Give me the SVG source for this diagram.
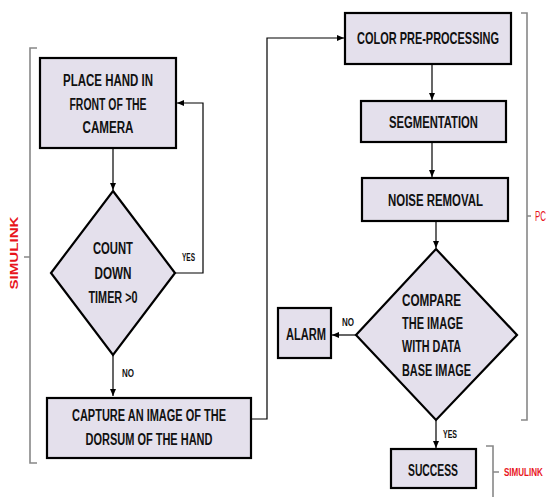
<svg xmlns="http://www.w3.org/2000/svg" width="549" height="497" viewBox="0 0 549 497">
<defs>
<marker id="ah" markerWidth="7" markerHeight="6" refX="7" refY="3" orient="auto" markerUnits="userSpaceOnUse">
<path d="M0,0 L7,3 L0,6 Z" fill="#000"/>
</marker>
<style>
.box{fill:#e4e0ec;stroke:#000;stroke-width:2.2}
.t{font-family:"Liberation Sans",Arial,sans-serif;font-weight:bold;font-size:16px;fill:#111}
.s{font-family:"Liberation Sans",Arial,sans-serif;font-weight:bold;font-size:11px;fill:#111}
.r{font-family:"Liberation Sans",Arial,sans-serif;fill:#e8141c}
.c{fill:none;stroke:#000;stroke-width:1.2}
.b{fill:none;stroke:#888;stroke-width:1.6}
</style>
</defs>
<rect width="549" height="497" fill="#fff"/>

<g id="brackets">
<path class="b" d="M37,48 L30,48 L30,463 L37,463 M24,257 L30,257"/>
<path class="b" d="M521,13 L527,13 L527,420 L521,420 M527,216 L531,216"/>
<path class="b" d="M486,446 L493,446 L493,497 M493,472 L499,472"/>
</g>
<g id="labels">
<text class="r" font-weight="bold" font-size="11" transform="translate(18,253) rotate(-90)" text-anchor="middle" textLength="73" lengthAdjust="spacingAndGlyphs">SIMULINK</text>
<text class="r" font-size="14" transform="translate(535,221) scale(0.57,1)">PC</text>
<text class="r" font-weight="bold" font-size="11" transform="translate(504,476) scale(0.73,1)">SIMULINK</text>
</g>

<g id="connectors">
<path class="c" d="M113,148 L113,190" marker-end="url(#ah)"/>
<path class="c" d="M175,273 L203,273 L203,103 L177,103" marker-end="url(#ah)"/>
<path class="c" d="M113,355 L113,396" marker-end="url(#ah)"/>
<path class="c" d="M251,419 L267,419 L267,38 L344,38" marker-end="url(#ah)"/>
<path class="c" d="M432,64 L432,100" marker-end="url(#ah)"/>
<path class="c" d="M432,142 L432,177" marker-end="url(#ah)"/>
<path class="c" d="M436,221 L436,248" marker-end="url(#ah)"/>
<path class="c" d="M356,335 L332,335" marker-end="url(#ah)"/>
<path class="c" d="M436,420 L436,448" marker-end="url(#ah)"/>
<text class="s" x="182" y="261" textLength="13" lengthAdjust="spacingAndGlyphs">YES</text>
<text class="s" x="122" y="377" textLength="12" lengthAdjust="spacingAndGlyphs">NO</text>
<text class="s" x="342" y="326" textLength="12" lengthAdjust="spacingAndGlyphs">NO</text>
<text class="s" x="443" y="438" textLength="14" lengthAdjust="spacingAndGlyphs">YES</text>
</g>

<g id="place-hand">
<rect class="box" x="40" y="58" width="136" height="90"/>
<text class="t" x="108" y="86" text-anchor="middle" textLength="90" lengthAdjust="spacingAndGlyphs">PLACE HAND IN</text>
<text class="t" x="108" y="110" text-anchor="middle" textLength="77" lengthAdjust="spacingAndGlyphs">FRONT OF THE</text>
<text class="t" x="108" y="133" text-anchor="middle" textLength="51" lengthAdjust="spacingAndGlyphs">CAMERA</text>
</g>

<g id="countdown">
<polygon class="box" points="113,191 175,273 113,355 51,273"/>
<text class="t" x="113" y="254" text-anchor="middle" textLength="40" lengthAdjust="spacingAndGlyphs">COUNT</text>
<text class="t" x="113" y="279" text-anchor="middle" textLength="37" lengthAdjust="spacingAndGlyphs">DOWN</text>
<text class="t" x="113" y="303" text-anchor="middle" textLength="49" lengthAdjust="spacingAndGlyphs">TIMER &gt;0</text>
</g>

<g id="capture">
<rect class="box" x="47" y="398" width="204" height="60"/>
<text class="t" x="149" y="421" text-anchor="middle" textLength="154" lengthAdjust="spacingAndGlyphs">CAPTURE AN IMAGE OF THE</text>
<text class="t" x="149" y="445" text-anchor="middle" textLength="127" lengthAdjust="spacingAndGlyphs">DORSUM OF THE HAND</text>
</g>

<g id="color">
<rect class="box" x="345" y="13" width="166" height="51"/>
<text class="t" text-anchor="middle" transform="translate(428,44) scale(0.686,1)">COLOR PRE-PROCESSING</text>
</g>

<g id="segmentation">
<rect class="box" x="361" y="101" width="145" height="41"/>
<text class="t" x="433.5" y="128" text-anchor="middle" textLength="89" lengthAdjust="spacingAndGlyphs">SEGMENTATION</text>
</g>

<g id="noise">
<rect class="box" x="362" y="178" width="146" height="43"/>
<text class="t" x="435.5" y="206" text-anchor="middle" textLength="95" lengthAdjust="spacingAndGlyphs">NOISE REMOVAL</text>
</g>

<g id="compare">
<polygon class="box" points="436,249 517,335 436,420 356,335"/>
<text class="t" x="402" y="306" textLength="59" lengthAdjust="spacingAndGlyphs">COMPARE</text>
<text class="t" x="402" y="329" textLength="61" lengthAdjust="spacingAndGlyphs">THE IMAGE</text>
<text class="t" x="402" y="352" textLength="59" lengthAdjust="spacingAndGlyphs">WITH DATA</text>
<text class="t" x="402" y="376" textLength="69" lengthAdjust="spacingAndGlyphs">BASE IMAGE</text>
</g>

<g id="alarm">
<rect class="box" x="278" y="308" width="53" height="50"/>
<text class="t" x="306" y="340" text-anchor="middle" textLength="40" lengthAdjust="spacingAndGlyphs">ALARM</text>
</g>

<g id="success">
<rect class="box" x="391" y="449" width="85" height="39"/>
<text class="t" x="433" y="476" text-anchor="middle" textLength="50" lengthAdjust="spacingAndGlyphs">SUCCESS</text>
</g>
</svg>
